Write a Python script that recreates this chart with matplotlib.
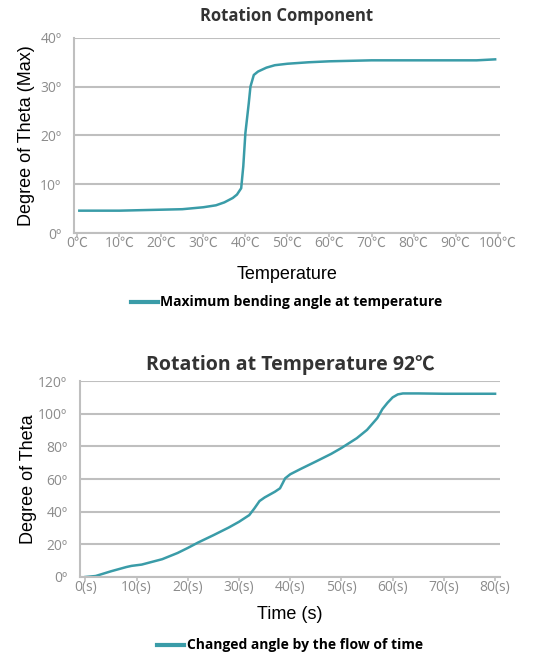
import matplotlib.pyplot as plt
import numpy as np

# top chart: max bending angle vs temperature
temp_c = [0.5, 10, 20, 25, 30, 33, 35, 37, 38, 39, 39.5, 40, 40.8, 41.2, 42, 43, 45, 47,
          50, 55, 60, 65, 70, 80, 90, 95, 99.4]
max_angle = [4.6, 4.6, 4.8, 4.9, 5.3, 5.7, 6.3, 7.2, 7.9, 9.2, 13.7, 20.5, 26.6, 30.0, 32.4,
             33.1, 33.9, 34.4, 34.7, 35.0, 35.2, 35.3, 35.4, 35.4, 35.4, 35.4, 35.6]
temp_ticks = list(range(0, 101, 10))
temp_labels = [f"{t}℃" for t in temp_ticks]
top_yticks = [0, 10, 20, 30, 40]

# bottom chart: angle vs time at 92C
time_s = [0, 2, 5, 8, 9, 11, 15, 18, 20, 22, 25, 28, 30, 32, 33, 34, 35, 37, 38, 38.5, 39,
          40, 42, 45, 48, 50, 53, 55, 57, 58, 59, 60, 61, 62, 65, 70, 80]
angle = [0, 0.6, 3.5, 6.1, 6.8, 7.6, 10.9, 14.7, 17.8, 21.1, 25.6, 30.3, 33.8, 37.9, 42.0,
         46.5, 48.7, 52.2, 54.3, 57.3, 60.4, 62.9, 66.1, 70.7, 75.4, 79.0, 85.0, 90.1, 97.3,
         102.8, 106.7, 110.0, 111.8, 112.4, 112.4, 112.2, 112.2]
time_ticks = list(range(0, 81, 10))
time_labels = [f"{t}(s)" for t in time_ticks]
bottom_yticks = [0, 20, 40, 60, 80, 100, 120]

LINE = '#3a9ca8'
GRID = '#bfbfbf'
TICK = '#8c8c8c'
TICKFONT = ['Open Sans', 'Noto Sans CJK KR', 'DejaVu Sans']
TITLEFONT = ['Open Sans', 'Noto Sans CJK KR', 'DejaVu Sans']


def style_axes(ax):
    for s in ['top', 'right']:
        ax.spines[s].set_visible(False)
    for s in ['left', 'bottom']:
        ax.spines[s].set_color(GRID)
        ax.spines[s].set_linewidth(1.5)
    ax.grid(axis='y', color=GRID, linewidth=1.5)
    ax.set_axisbelow(True)
    ax.tick_params(axis='y', length=0, pad=9)
    ax.tick_params(axis='x', length=3, color=GRID, width=1.2, pad=-1)
    for lab in ax.get_xticklabels() + ax.get_yticklabels():
        lab.set_family(TICKFONT)
        lab.set_color(TICK)
        lab.set_fontsize(10)


fig = plt.figure(figsize=(5.39, 6.53), dpi=100)

ax1 = fig.add_axes([0.137, 0.643, 0.791, 0.299])
ax1.plot(temp_c, max_angle, color=LINE, linewidth=1.8)
ax1.set_xlim(-0.8, 100.6)
ax1.set_ylim(0, 40)
ax1.set_xticks(temp_ticks)
ax1.set_xticklabels(temp_labels)
ax1.set_yticks(top_yticks)
ax1.set_yticklabels([f"{v}º" for v in top_yticks])
style_axes(ax1)
ax1.set_title("Rotation Component", fontsize=12, fontweight='bold', color='#333333',
              family=TITLEFONT, pad=12)
ax1.set_ylabel("Degree of Theta (Max)", family='Liberation Sans', fontsize=13, labelpad=4)
ax1.set_xlabel("Temperature", family='Liberation Sans', fontsize=13, labelpad=11)
ax1.legend(['Maximum bending angle at temperature'], loc='upper center',
           bbox_to_anchor=(0.5, -0.255), frameon=False, handlelength=1.9, handletextpad=0.2,
           prop={'family': TITLEFONT, 'weight': 'bold', 'size': 10})
for h in ax1.get_legend().get_lines():
    h.set_linewidth(3)

ax2 = fig.add_axes([0.148, 0.1164, 0.780, 0.3001])
ax2.plot(time_s, angle, color=LINE, linewidth=1.8)
ax2.set_xlim(-1.1, 81)
ax2.set_ylim(0, 120)
ax2.set_xticks(time_ticks)
ax2.set_xticklabels(time_labels)
ax2.set_yticks(bottom_yticks)
ax2.set_yticklabels([f"{v}º" for v in bottom_yticks])
style_axes(ax2)
ax2.set_title("Rotation at Temperature 92℃", fontsize=14, fontweight='bold', color='#333333',
              family=TITLEFONT, pad=8)
ax2.set_ylabel("Degree of Theta", family='Liberation Sans', fontsize=13, labelpad=1)
ax2.set_xlabel("Time (s)", family='Liberation Sans', fontsize=13, labelpad=8)
ax2.legend(['Changed angle by the flow of time'], loc='upper center',
           bbox_to_anchor=(0.5, -0.25), frameon=False, handlelength=1.9, handletextpad=0.2,
           prop={'family': TITLEFONT, 'weight': 'bold', 'size': 10})
for h in ax2.get_legend().get_lines():
    h.set_linewidth(3)

fig.savefig('out.png', dpi=100)
